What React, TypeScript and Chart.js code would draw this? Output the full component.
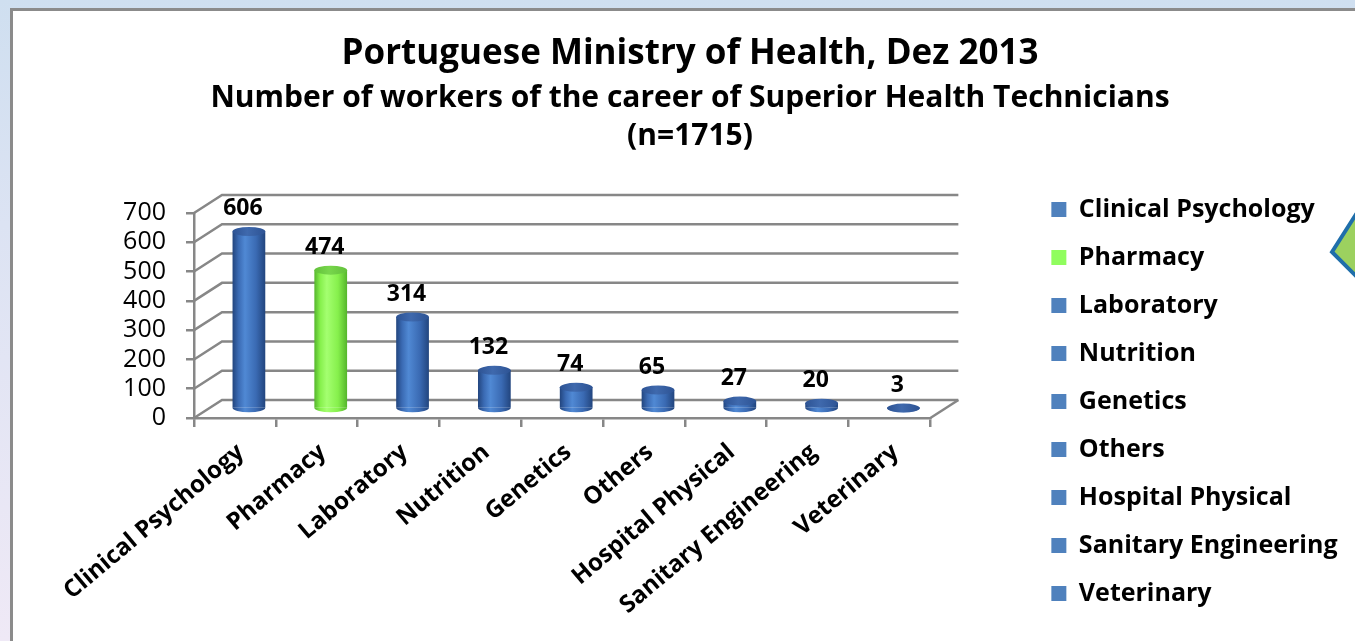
import React, { useEffect, useRef } from "react";
import { Chart, registerables } from "chart.js";

Chart.register(...registerables);

// ---------------- data ----------------
const categories = [
  "Clinical Psychology",
  "Pharmacy",
  "Laboratory",
  "Nutrition",
  "Genetics",
  "Others",
  "Hospital Physical",
  "Sanitary Engineering",
  "Veterinary",
];
const workers = [606, 474, 314, 132, 74, 65, 27, 20, 3];
const yTickValues = [0, 100, 200, 300, 400, 500, 600, 700];
const barKinds = ["blue", "green", "blue", "blue", "blue", "blue", "blue", "blue", "blue"];
const titleText = "Portuguese Ministry of Health, Dez 2013";
const subtitleLines = ["Number of workers of the career of Superior Health Technicians", "(n=1715)"];

// ---------------- styles ----------------
const palette: Record<string, any> = {
  blue: { edge: "#22457e", mid: "#3a6ab3", light: "#5089d4", cap: "#2d5394", capLight: "#3f69ad", legend: "#4f81bd" },
  green: { edge: "#55b52c", mid: "#86f04c", light: "#a4ff70", cap: "#62c13a", capLight: "#78d64c", legend: "#90fd5e" },
};
const GRID = "#878787";
const DEPTH_X = 28;
const DEPTH_Y = 18;
const BAR_PCT = 0.4;
const CAP_RY = 4.5;
const FONT = "'Open Sans', 'DejaVu Sans', sans-serif";

function bodyGradient(ctx: CanvasRenderingContext2D, cx: number, w: number, kind: string) {
  const p = palette[kind];
  const g = ctx.createLinearGradient(cx - w / 2, 0, cx + w / 2, 0);
  g.addColorStop(0, p.edge);
  g.addColorStop(0.18, p.mid);
  g.addColorStop(0.38, p.light);
  g.addColorStop(0.72, p.mid);
  g.addColorStop(1, p.edge);
  return g;
}

const threeDPlugin = {
  id: "threeD",
  beforeDatasetsDraw(chart: any) {
    const { ctx, chartArea, scales } = chart;
    const y = scales.y;
    ctx.save();
    ctx.strokeStyle = GRID;
    ctx.lineWidth = 2.5;
    yTickValues.forEach((v) => {
      const py = y.getPixelForValue(v);
      ctx.beginPath();
      ctx.moveTo(chartArea.left, py);
      ctx.lineTo(chartArea.left + DEPTH_X, py - DEPTH_Y);
      ctx.lineTo(chartArea.right + DEPTH_X, py - DEPTH_Y);
      ctx.stroke();
    });
    const p0 = y.getPixelForValue(0);
    ctx.beginPath();
    ctx.moveTo(chartArea.right, p0);
    ctx.lineTo(chartArea.right + DEPTH_X, p0 - DEPTH_Y);
    ctx.stroke();
    ctx.restore();
    ctx.save();
    ctx.translate(DEPTH_X / 2, -DEPTH_Y / 2);
  },
  afterDatasetsDraw(chart: any) {
    const ctx: CanvasRenderingContext2D = chart.ctx;
    const meta = chart.getDatasetMeta(0);
    meta.data.forEach((el: any, i: number) => {
      const { x, y, base, width } = el.getProps(["x", "y", "base", "width"], true);
      const kind = barKinds[i];
      const p = palette[kind];
      ctx.beginPath();
      ctx.ellipse(x, base, width / 2, CAP_RY, 0, 0, Math.PI);
      ctx.fillStyle = bodyGradient(ctx, x, width, kind);
      ctx.fill();
      const cg = ctx.createLinearGradient(x - width / 2, 0, x + width / 2, 0);
      cg.addColorStop(0, p.cap);
      cg.addColorStop(0.45, p.capLight);
      cg.addColorStop(1, p.cap);
      ctx.beginPath();
      ctx.ellipse(x, y, width / 2, CAP_RY, 0, 0, Math.PI * 2);
      ctx.fillStyle = cg;
      ctx.fill();
      ctx.fillStyle = "#000";
      ctx.font = `bold 23px ${FONT}`;
      ctx.textAlign = "center";
      ctx.textBaseline = "middle";
      ctx.fillText(String(workers[i]), x - 6, y - 23);
    });
    ctx.restore();
  },
};

function buildChart(canvas: HTMLCanvasElement) {
  return new Chart(canvas, {
    type: "bar",
    data: {
      labels: categories,
      datasets: [
        {
          label: "Workers",
          data: workers,
          clip: false as any,
          borderWidth: 0,
          categoryPercentage: 1,
          barPercentage: BAR_PCT,
          backgroundColor: (c: any) => {
            const xs = c.chart.scales?.x;
            if (c.dataIndex === undefined || !xs) return palette.blue.mid;
            const kind = barKinds[c.dataIndex];
            const cx = xs.getPixelForValue(c.dataIndex);
            const w = (xs.width / categories.length) * BAR_PCT;
            return bodyGradient(c.chart.ctx, cx, w, kind);
          },
        },
      ],
    },
    options: {
      responsive: false,
      animation: false,
      events: [],
      layout: { padding: { left: 32.5, right: 7.5, top: 0, bottom: 12 } },
      scales: {
        x: {
          type: "category",
          grid: { offset: true, drawOnChartArea: false, drawTicks: true, tickLength: 9, color: GRID, lineWidth: 2.5 },
          border: { display: true, color: GRID, width: 2.5 },
          ticks: {
            autoSkip: false,
            minRotation: 40,
            maxRotation: 40,
            color: "#000",
            padding: 11,
            labelOffset: 6,
            font: { family: FONT, size: 24, weight: "bold" },
          },
          afterFit: (s: any) => {
            s.height = 211;
          },
        },
        y: {
          type: "linear",
          min: 0,
          max: 700,
          afterBuildTicks: (s: any) => {
            s.ticks = yTickValues.map((v) => ({ value: v }));
          },
          grid: { drawOnChartArea: false, drawTicks: true, tickLength: 8, color: GRID, lineWidth: 2.5 },
          border: { display: true, color: GRID, width: 2.5 },
          ticks: {
            autoSkip: false,
            color: "#000",
            padding: 20,
            font: { family: FONT, size: 25, weight: "normal" },
          },
          afterFit: (s: any) => {
            s.width = 161.5;
          },
        },
        y2: {
          type: "linear",
          position: "right",
          display: true,
          grid: { display: false, drawTicks: false },
          border: { display: false },
          ticks: { display: false },
          afterFit: (s: any) => {
            s.width = 98;
          },
        },
      },
      plugins: {
        title: {
          display: true,
          text: titleText,
          color: "#000",
          font: { family: FONT, size: 35, weight: "bold", lineHeight: 1.2 },
          padding: { top: 33, bottom: 4 },
        },
        subtitle: {
          display: true,
          text: subtitleLines,
          color: "#000",
          font: { family: FONT, size: 30, weight: "bold", lineHeight: "38px" as any },
          padding: { top: 0, bottom: 58 },
        },
        legend: {
          display: true,
          position: "right",
          align: "end",
          maxWidth: 400,
          labels: {
            boxWidth: 15,
            boxHeight: 15,
            padding: 23,
            color: "#000",
            font: { family: FONT, size: 25, weight: "bold" },
            generateLabels: () =>
              categories.map((c, i) => ({
                text: c,
                fillStyle: palette[barKinds[i]].legend,
                strokeStyle: palette[barKinds[i]].legend,
                lineWidth: 0,
                hidden: false,
                index: i,
                datasetIndex: 0,
              })),
          },
        } as any,
        tooltip: { enabled: false },
      },
    },
    plugins: [threeDPlugin],
  });
}

export default function App() {
  const ref = useRef<HTMLCanvasElement | null>(null);

  useEffect(() => {
    let chart: Chart | null = null;
    let cancelled = false;
    const make = () => {
      if (cancelled || !ref.current || chart) return;
      chart = buildChart(ref.current);
    };
    const fonts = (document as any).fonts;
    if (fonts && fonts.load) {
      Promise.all([
        fonts.load(`bold 25px "Open Sans"`),
        fonts.load(`25px "Open Sans"`),
      ]).then(make, make);
    } else {
      make();
    }
    return () => {
      cancelled = true;
      if (chart) chart.destroy();
    };
  }, []);

  return (
    <div
      style={{
        position: "fixed",
        left: 0,
        top: 0,
        width: 1355,
        height: 641,
        overflow: "hidden",
        background: "linear-gradient(180deg, #cfdff0 0%, #dce3f3 35%, #efe9f6 100%)",
      }}
    >
      <div
        style={{
          position: "absolute",
          left: 10,
          top: 8,
          width: 1420,
          height: 700,
          background: "#fff",
          border: "3px solid #8b8b8b",
          boxSizing: "border-box",
        }}
      />
      <svg width={1355} height={641} style={{ position: "absolute", left: 0, top: 0 }}>
        <polygon points="1332,252 1360,208 1400,250 1362,282" fill="#9cd15f" stroke="#1f6eaa" strokeWidth={4} />
      </svg>
      <canvas ref={ref} width={1355} height={641} style={{ position: "absolute", left: 0, top: 0 }} />
    </div>
  );
}
